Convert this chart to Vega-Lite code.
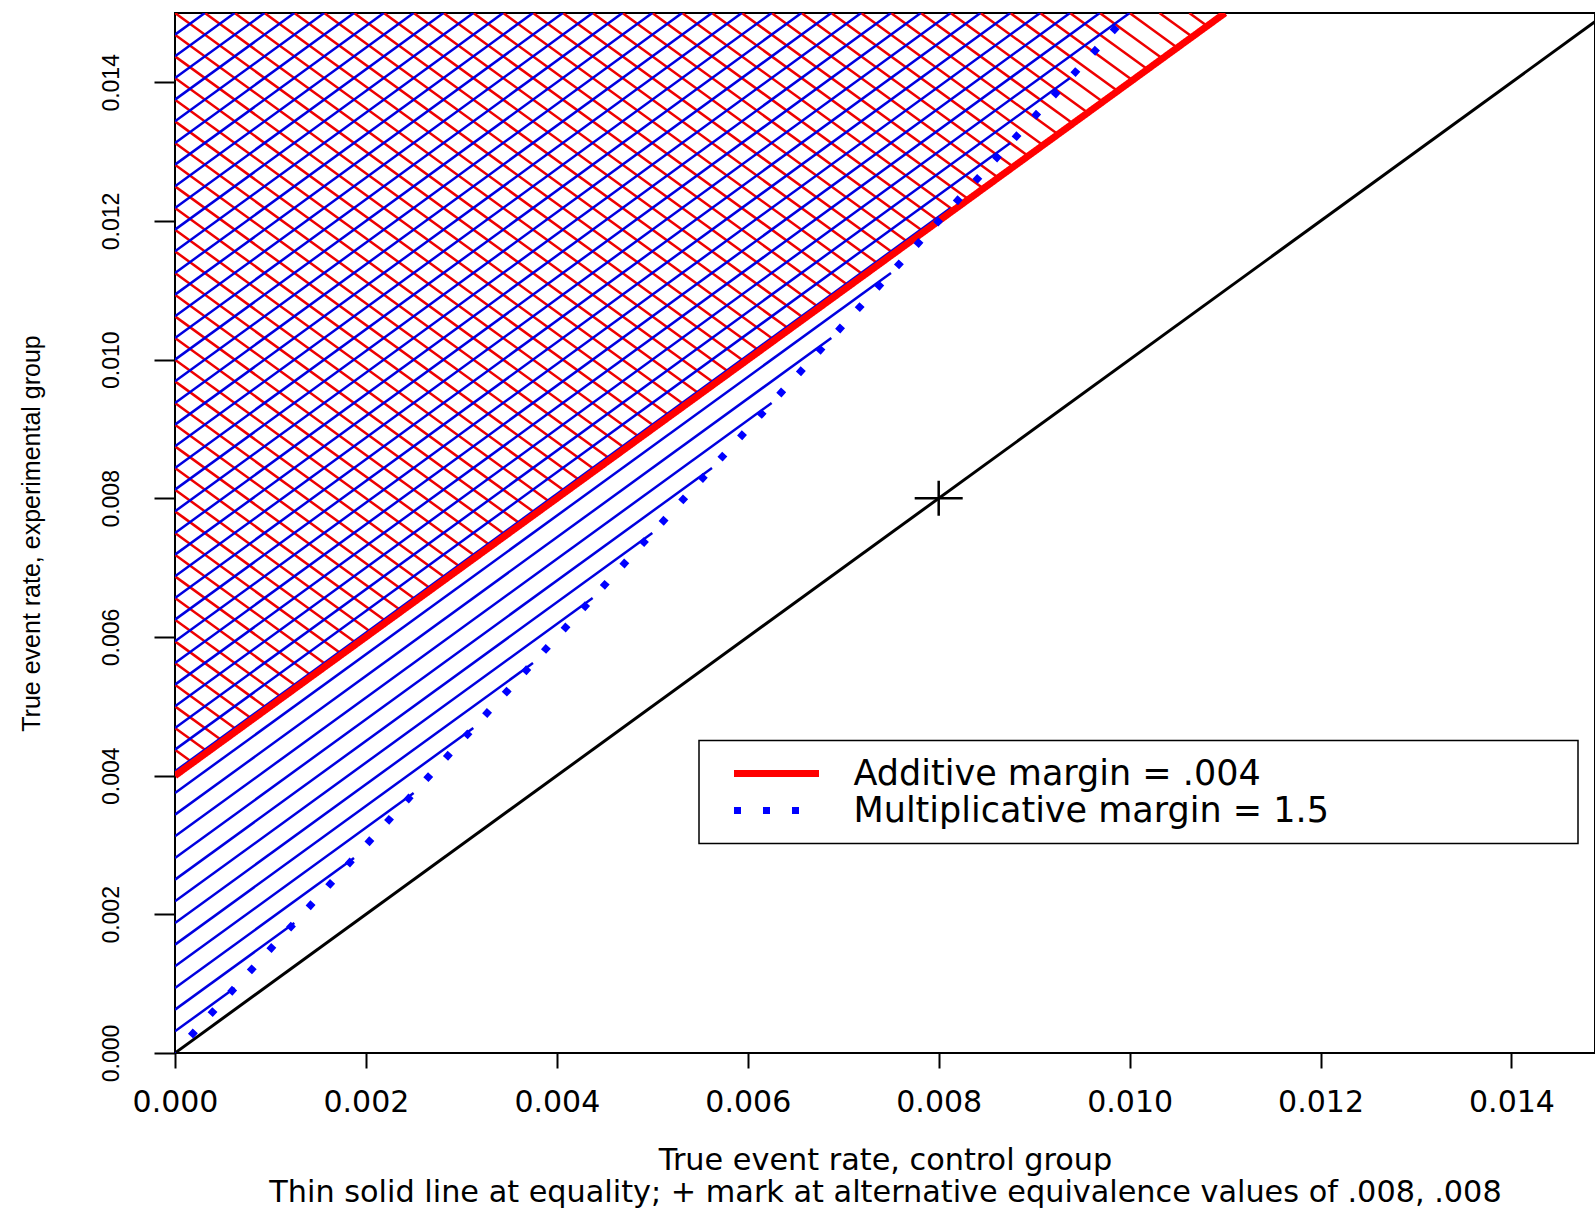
{
  "$schema": "https://vega.github.io/schema/vega-lite/v6.json",
  "width": 1420,
  "height": 1040,
  "autosize": {"type": "none"},
  "padding": {"left": 175, "top": 13, "right": 0, "bottom": 155},
  "background": "white",
  "config": {
    "view": {"stroke": "black", "strokeWidth": 2},
    "axis": {"domain": false, "grid": false, "tickColor": "black", "tickWidth": 2, "labelColor": "black", "titleColor": "black", "titleFontWeight": "normal", "labelFlush": false, "labelOverlap": false, "labelBound": false},
    "legend": {"strokeWidth": 1.5}
  },
  "datasets": {
    "hatch_red": [
      {"x": 0, "y": 0.004375, "x2": 0.0001875, "y2": 0.0041875},
      {"x": 0, "y": 0.0046875, "x2": 0.00034375, "y2": 0.00434375},
      {"x": 0, "y": 0.005, "x2": 0.0005, "y2": 0.0045},
      {"x": 0, "y": 0.0053125, "x2": 0.00065625, "y2": 0.00465625},
      {"x": 0, "y": 0.005625, "x2": 0.0008125, "y2": 0.0048125},
      {"x": 0, "y": 0.0059375, "x2": 0.00096875, "y2": 0.00496875},
      {"x": 0, "y": 0.00625, "x2": 0.001125, "y2": 0.005125},
      {"x": 0, "y": 0.0065625, "x2": 0.00128125, "y2": 0.00528125},
      {"x": 0, "y": 0.006875, "x2": 0.0014375, "y2": 0.0054375},
      {"x": 0, "y": 0.0071875, "x2": 0.00159375, "y2": 0.00559375},
      {"x": 0, "y": 0.0075, "x2": 0.00175, "y2": 0.00575},
      {"x": 0, "y": 0.0078125, "x2": 0.00190625, "y2": 0.00590625},
      {"x": 0, "y": 0.008125, "x2": 0.0020625, "y2": 0.0060625},
      {"x": 0, "y": 0.0084375, "x2": 0.00221875, "y2": 0.00621875},
      {"x": 0, "y": 0.00875, "x2": 0.002375, "y2": 0.006375},
      {"x": 0, "y": 0.0090625, "x2": 0.00253125, "y2": 0.00653125},
      {"x": 0, "y": 0.009375, "x2": 0.0026875, "y2": 0.0066875},
      {"x": 0, "y": 0.0096875, "x2": 0.00284375, "y2": 0.00684375},
      {"x": 0, "y": 0.01, "x2": 0.003, "y2": 0.007},
      {"x": 0, "y": 0.0103125, "x2": 0.00315625, "y2": 0.00715625},
      {"x": 0, "y": 0.010625, "x2": 0.0033125, "y2": 0.0073125},
      {"x": 0, "y": 0.0109375, "x2": 0.00346875, "y2": 0.00746875},
      {"x": 0, "y": 0.01125, "x2": 0.003625, "y2": 0.007625},
      {"x": 0, "y": 0.0115625, "x2": 0.00378125, "y2": 0.00778125},
      {"x": 0, "y": 0.011875, "x2": 0.0039375, "y2": 0.0079375},
      {"x": 0, "y": 0.0121875, "x2": 0.00409375, "y2": 0.00809375},
      {"x": 0, "y": 0.0125, "x2": 0.00425, "y2": 0.00825},
      {"x": 0, "y": 0.0128125, "x2": 0.00440625, "y2": 0.00840625},
      {"x": 0, "y": 0.013125, "x2": 0.0045625, "y2": 0.0085625},
      {"x": 0, "y": 0.0134375, "x2": 0.00471875, "y2": 0.00871875},
      {"x": 0, "y": 0.01375, "x2": 0.004875, "y2": 0.008875},
      {"x": 0, "y": 0.0140625, "x2": 0.00503125, "y2": 0.00903125},
      {"x": 0, "y": 0.014375, "x2": 0.0051875, "y2": 0.0091875},
      {"x": 0, "y": 0.0146875, "x2": 0.00534375, "y2": 0.00934375},
      {"x": 0, "y": 0.015, "x2": 0.0055, "y2": 0.0095},
      {"x": 0.0003125, "y": 0.015, "x2": 0.00565625, "y2": 0.00965625},
      {"x": 0.000625, "y": 0.015, "x2": 0.0058125, "y2": 0.0098125},
      {"x": 0.0009375, "y": 0.015, "x2": 0.00596875, "y2": 0.00996875},
      {"x": 0.00125, "y": 0.015, "x2": 0.006125, "y2": 0.010125},
      {"x": 0.0015625, "y": 0.015, "x2": 0.00628125, "y2": 0.01028125},
      {"x": 0.001875, "y": 0.015, "x2": 0.0064375, "y2": 0.0104375},
      {"x": 0.0021875, "y": 0.015, "x2": 0.00659375, "y2": 0.01059375},
      {"x": 0.0025, "y": 0.015, "x2": 0.00675, "y2": 0.01075},
      {"x": 0.0028125, "y": 0.015, "x2": 0.00690625, "y2": 0.01090625},
      {"x": 0.003125, "y": 0.015, "x2": 0.0070625, "y2": 0.0110625},
      {"x": 0.0034375, "y": 0.015, "x2": 0.00721875, "y2": 0.01121875},
      {"x": 0.00375, "y": 0.015, "x2": 0.007375, "y2": 0.011375},
      {"x": 0.0040625, "y": 0.015, "x2": 0.00753125, "y2": 0.01153125},
      {"x": 0.004375, "y": 0.015, "x2": 0.0076875, "y2": 0.0116875},
      {"x": 0.0046875, "y": 0.015, "x2": 0.00784375, "y2": 0.01184375},
      {"x": 0.005, "y": 0.015, "x2": 0.008, "y2": 0.012},
      {"x": 0.0053125, "y": 0.015, "x2": 0.00815625, "y2": 0.01215625},
      {"x": 0.005625, "y": 0.015, "x2": 0.0083125, "y2": 0.0123125},
      {"x": 0.0059375, "y": 0.015, "x2": 0.00846875, "y2": 0.01246875},
      {"x": 0.00625, "y": 0.015, "x2": 0.008625, "y2": 0.012625},
      {"x": 0.0065625, "y": 0.015, "x2": 0.00878125, "y2": 0.01278125},
      {"x": 0.006875, "y": 0.015, "x2": 0.0089375, "y2": 0.0129375},
      {"x": 0.0071875, "y": 0.015, "x2": 0.00909375, "y2": 0.01309375},
      {"x": 0.0075, "y": 0.015, "x2": 0.00925, "y2": 0.01325},
      {"x": 0.0078125, "y": 0.015, "x2": 0.00940625, "y2": 0.01340625},
      {"x": 0.008125, "y": 0.015, "x2": 0.0095625, "y2": 0.0135625},
      {"x": 0.0084375, "y": 0.015, "x2": 0.00971875, "y2": 0.01371875},
      {"x": 0.00875, "y": 0.015, "x2": 0.009875, "y2": 0.013875},
      {"x": 0.0090625, "y": 0.015, "x2": 0.01003125, "y2": 0.01403125},
      {"x": 0.009375, "y": 0.015, "x2": 0.0101875, "y2": 0.0141875},
      {"x": 0.0096875, "y": 0.015, "x2": 0.01034375, "y2": 0.01434375},
      {"x": 0.01, "y": 0.015, "x2": 0.0105, "y2": 0.0145},
      {"x": 0.0103125, "y": 0.015, "x2": 0.01065625, "y2": 0.01465625},
      {"x": 0.010625, "y": 0.015, "x2": 0.0108125, "y2": 0.0148125}
    ],
    "hatch_blue": [
      {"x": 0, "y": 0.0003125, "x2": 0.000625, "y2": 0.0009375},
      {"x": 0, "y": 0.000625, "x2": 0.00125, "y2": 0.001875},
      {"x": 0, "y": 0.0009375, "x2": 0.001875, "y2": 0.0028125},
      {"x": 0, "y": 0.00125, "x2": 0.0025, "y2": 0.00375},
      {"x": 0, "y": 0.0015625, "x2": 0.003125, "y2": 0.0046875},
      {"x": 0, "y": 0.001875, "x2": 0.00375, "y2": 0.005625},
      {"x": 0, "y": 0.0021875, "x2": 0.004375, "y2": 0.0065625},
      {"x": 0, "y": 0.0025, "x2": 0.005, "y2": 0.0075},
      {"x": 0, "y": 0.0028125, "x2": 0.005625, "y2": 0.0084375},
      {"x": 0, "y": 0.003125, "x2": 0.00625, "y2": 0.009375},
      {"x": 0, "y": 0.0034375, "x2": 0.006875, "y2": 0.0103125},
      {"x": 0, "y": 0.00375, "x2": 0.0075, "y2": 0.01125},
      {"x": 0, "y": 0.0040625, "x2": 0.008125, "y2": 0.0121875},
      {"x": 0, "y": 0.004375, "x2": 0.00875, "y2": 0.013125},
      {"x": 0, "y": 0.0046875, "x2": 0.009375, "y2": 0.0140625},
      {"x": 0, "y": 0.005, "x2": 0.01, "y2": 0.015},
      {"x": 0, "y": 0.0053125, "x2": 0.0096875, "y2": 0.015},
      {"x": 0, "y": 0.005625, "x2": 0.009375, "y2": 0.015},
      {"x": 0, "y": 0.0059375, "x2": 0.0090625, "y2": 0.015},
      {"x": 0, "y": 0.00625, "x2": 0.00875, "y2": 0.015},
      {"x": 0, "y": 0.0065625, "x2": 0.0084375, "y2": 0.015},
      {"x": 0, "y": 0.006875, "x2": 0.008125, "y2": 0.015},
      {"x": 0, "y": 0.0071875, "x2": 0.0078125, "y2": 0.015},
      {"x": 0, "y": 0.0075, "x2": 0.0075, "y2": 0.015},
      {"x": 0, "y": 0.0078125, "x2": 0.0071875, "y2": 0.015},
      {"x": 0, "y": 0.008125, "x2": 0.006875, "y2": 0.015},
      {"x": 0, "y": 0.0084375, "x2": 0.0065625, "y2": 0.015},
      {"x": 0, "y": 0.00875, "x2": 0.00625, "y2": 0.015},
      {"x": 0, "y": 0.0090625, "x2": 0.0059375, "y2": 0.015},
      {"x": 0, "y": 0.009375, "x2": 0.005625, "y2": 0.015},
      {"x": 0, "y": 0.0096875, "x2": 0.0053125, "y2": 0.015},
      {"x": 0, "y": 0.01, "x2": 0.005, "y2": 0.015},
      {"x": 0, "y": 0.0103125, "x2": 0.0046875, "y2": 0.015},
      {"x": 0, "y": 0.010625, "x2": 0.004375, "y2": 0.015},
      {"x": 0, "y": 0.0109375, "x2": 0.0040625, "y2": 0.015},
      {"x": 0, "y": 0.01125, "x2": 0.00375, "y2": 0.015},
      {"x": 0, "y": 0.0115625, "x2": 0.0034375, "y2": 0.015},
      {"x": 0, "y": 0.011875, "x2": 0.003125, "y2": 0.015},
      {"x": 0, "y": 0.0121875, "x2": 0.0028125, "y2": 0.015},
      {"x": 0, "y": 0.0125, "x2": 0.0025, "y2": 0.015},
      {"x": 0, "y": 0.0128125, "x2": 0.0021875, "y2": 0.015},
      {"x": 0, "y": 0.013125, "x2": 0.001875, "y2": 0.015},
      {"x": 0, "y": 0.0134375, "x2": 0.0015625, "y2": 0.015},
      {"x": 0, "y": 0.01375, "x2": 0.00125, "y2": 0.015},
      {"x": 0, "y": 0.0140625, "x2": 0.0009375, "y2": 0.015},
      {"x": 0, "y": 0.014375, "x2": 0.000625, "y2": 0.015},
      {"x": 0, "y": 0.0146875, "x2": 0.0003125, "y2": 0.015}
    ],
    "equality": [
      {"x": 0, "y": 0},
      {"x": 0.015, "y": 0.015}
    ],
    "margins": [
      {"series": "Additive margin = .004", "x": 0, "y": 0.004},
      {"series": "Additive margin = .004", "x": 0.011, "y": 0.015},
      {"series": "Multiplicative margin = 1.5", "x": 0, "y": 0},
      {"series": "Multiplicative margin = 1.5", "x": 0.01, "y": 0.015}
    ],
    "alternative": [
      {"x": 0.008, "y": 0.008}
    ]
  },
  "encoding": {
    "x": {
      "field": "x", "type": "quantitative",
      "scale": {"domain": [0, 0.014875], "nice": false, "zero": false},
      "axis": {
        "title": ["True event rate, control group", "Thin solid line at equality; + mark at alternative equivalence values of .008, .008"],
        "values": [0, 0.002, 0.004, 0.006, 0.008, 0.01, 0.012, 0.014],
        "format": ".3f",
        "labelFont": "DejaVu Sans", "labelFontSize": 30, "labelPadding": 19,
        "tickSize": 15,
        "titleFont": "DejaVu Sans", "titleFontSize": 30.3, "titlePadding": 28, "titleLineHeight": 32
      }
    },
    "y": {
      "field": "y", "type": "quantitative",
      "scale": {"domain": [0, 0.015], "nice": false, "zero": false},
      "axis": {
        "title": "True event rate, experimental group",
        "values": [0, 0.002, 0.004, 0.006, 0.008, 0.01, 0.012, 0.014],
        "format": ".3f",
        "labelFont": "Liberation Sans", "labelFontSize": 23, "labelAngle": 270, "labelAlign": "center", "labelBaseline": "bottom", "labelPadding": 31,
        "tickSize": 21,
        "titleFont": "Liberation Sans", "titleFontSize": 25, "titlePadding": 56
      }
    }
  },
  "layer": [
    {
      "data": {"name": "hatch_red"},
      "mark": {"type": "rule", "color": "#ee0000", "strokeWidth": 2.5, "clip": true},
      "encoding": {"x2": {"field": "x2"}, "y2": {"field": "y2"}}
    },
    {
      "data": {"name": "hatch_blue"},
      "mark": {"type": "rule", "color": "#0000e0", "strokeWidth": 2.5, "clip": true},
      "encoding": {"x2": {"field": "x2"}, "y2": {"field": "y2"}}
    },
    {
      "data": {"name": "equality"},
      "mark": {"type": "line", "color": "black", "strokeWidth": 3, "clip": true},
      "encoding": {}
    },
    {
      "data": {"name": "margins"},
      "mark": {"type": "line", "strokeWidth": 7, "strokeCap": "butt", "strokeDashOffset": 6, "clip": true},
      "encoding": {
        "color": {
          "field": "series", "type": "nominal",
          "scale": {"domain": ["Additive margin = .004", "Multiplicative margin = 1.5"], "range": ["#ff0000", "#0000ff"]},
          "legend": {
            "title": null,
            "orient": "none", "legendX": 524, "legendY": 727.5,
            "strokeColor": "black", "fillColor": "white", "padding": 15,
            "labelFont": "DejaVu Sans", "labelFontSize": 35, "labelColor": "black", "labelLimit": 1200,
            "labelExpr": "datum.label + '\u00a0\u00a0\u00a0\u00a0\u00a0\u00a0\u00a0\u00a0\u00a0\u00a0\u00a0\u00a0\u00a0\u00a0\u00a0\u00a0\u00a0\u00a0\u00a0\u00a0\u00a0\u200b'",
            "symbolType": "M-3,0L3,0", "symbolSize": 803, "symbolStrokeWidth": 7,
            "symbolOffset": 44.5, "labelOffset": 59, "rowPadding": 1
          }
        },
        "strokeDash": {
          "field": "series", "type": "nominal",
          "scale": {"domain": ["Additive margin = .004", "Multiplicative margin = 1.5"], "range": [[1, 0], [7, 22]]},
          "legend": {
            "title": null,
            "orient": "none", "legendX": 524, "legendY": 727.5,
            "strokeColor": "black", "fillColor": "white", "padding": 15,
            "labelFont": "DejaVu Sans", "labelFontSize": 35, "labelColor": "black", "labelLimit": 1200,
            "labelExpr": "datum.label + '\u00a0\u00a0\u00a0\u00a0\u00a0\u00a0\u00a0\u00a0\u00a0\u00a0\u00a0\u00a0\u00a0\u00a0\u00a0\u00a0\u00a0\u00a0\u00a0\u00a0\u00a0\u200b'",
            "symbolType": "M-3,0L3,0", "symbolSize": 803, "symbolStrokeWidth": 7,
            "symbolOffset": 44.5, "labelOffset": 59, "rowPadding": 1
          }
        }
      }
    },
    {
      "data": {"name": "alternative"},
      "mark": {"type": "point", "shape": "M-1,0L1,0M0,-0.73L0,0.73", "size": 2304, "stroke": "black", "strokeWidth": 2.5, "filled": false, "opacity": 1},
      "encoding": {}
    }
  ]
}
